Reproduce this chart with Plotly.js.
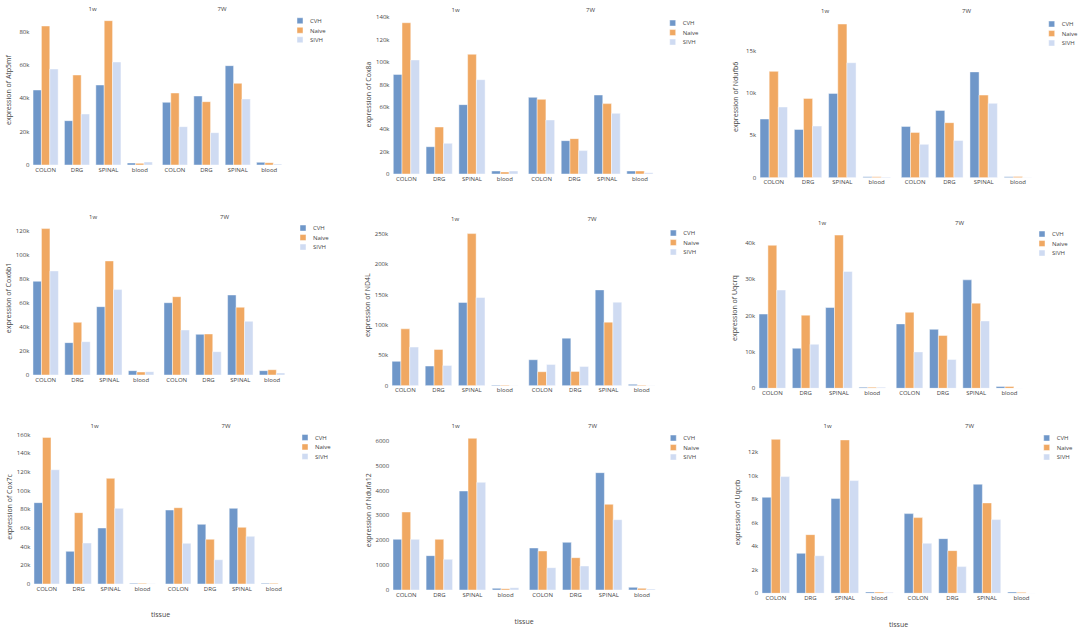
<!DOCTYPE html>
<html>
<head>
<meta charset="utf-8">
<script src="https://cdn.plot.ly/plotly-3.0.1.min.js"></script>
<style>
html,body{margin:0;padding:0;background:#fff;overflow:hidden;}
#wrap{width:1084px;height:629px;overflow:hidden;position:relative;}
#chart{width:2168px;height:1258px;transform:scale(0.5);transform-origin:0 0;}
</style>
</head>
<body>
<div id="wrap"><div id="chart"></div></div>
<script>
// ---------------- data ----------------
const tissues = ['COLON', 'DRG', 'SPINAL', 'blood'];
const timepoints = ['1w', '7W'];
const groups = ['CVH', 'Naive', 'SIVH'];
const genes = ['Atp5mf', 'Cox8a', 'Ndufb6', 'Cox6b1', 'ND4L', 'Uqcrq', 'Cox7c', 'Ndufa12', 'Uqcrb'];
const yTickStep = [20000, 20000, 5000, 20000, 50000, 10000, 20000, 1000, 2000];

// order of values: 1w COLON, DRG, SPINAL, blood, 7W COLON, DRG, SPINAL, blood
const Atp5mf_CVH   = [45000, 26600, 48000, 1200, 37600, 41400, 59600, 1600];
const Atp5mf_Naive = [83400, 54000, 86600, 1000, 43200, 38000, 49000, 1400];
const Atp5mf_SIVH  = [57600, 30600, 61800, 1800, 23000, 19400, 39600, 600];

const Cox8a_CVH    = [89000, 24400, 62000, 2700, 68500, 29800, 70600, 2700];
const Cox8a_Naive  = [135200, 42000, 107000, 1800, 66700, 31600, 62900, 2700];
const Cox8a_SIVH   = [101900, 27400, 84300, 2700, 48300, 20900, 54200, 1200];

const Ndufb6_CVH   = [6930, 5700, 9960, 100, 6060, 7950, 12500, 100];
const Ndufb6_Naive = [12560, 9370, 18150, 100, 5350, 6500, 9760, 150];
const Ndufb6_SIVH  = [8350, 6100, 13580, 80, 3940, 4400, 8780, 20];

const Cox6b1_CVH   = [77900, 26900, 56800, 3600, 60100, 33800, 66500, 3600];
const Cox6b1_Naive = [121700, 43800, 94800, 2500, 65100, 34100, 56300, 4400];
const Cox6b1_SIVH  = [86500, 27700, 71000, 2800, 37400, 19400, 44600, 1700];

const ND4L_CVH     = [40000, 32300, 136800, 1100, 42700, 78200, 157500, 2200];
const ND4L_Naive   = [93500, 59600, 250000, 1100, 23000, 23500, 104500, 1100];
const ND4L_SIVH    = [63500, 33400, 145000, 500, 35000, 31700, 137300, 500];

const Uqcrq_CVH    = [20400, 11000, 22200, 300, 17700, 16200, 29800, 500];
const Uqcrq_Naive  = [39300, 20100, 42100, 300, 20900, 14500, 23400, 500];
const Uqcrq_SIVH   = [27000, 12100, 32100, 300, 10000, 7900, 18500, 100];

const Cox7c_CVH    = [87000, 34900, 59900, 700, 79100, 63800, 80900, 700];
const Cox7c_Naive  = [156800, 76300, 113000, 700, 81600, 47800, 60600, 700];
const Cox7c_SIVH   = [122200, 43800, 80900, 350, 43500, 26000, 51000, 100];

const Ndufa12_CVH   = [2036, 1380, 3977, 67, 1688, 1915, 4714, 107];
const Ndufa12_Naive = [3134, 2036, 6094, 54, 1567, 1299, 3442, 67];
const Ndufa12_SIVH  = [2036, 1232, 4326, 94, 897, 964, 2826, 40];

const Uqcrb_CVH    = [8170, 3400, 8060, 110, 6780, 4650, 9280, 110];
const Uqcrb_Naive  = [13100, 4990, 13050, 110, 6440, 3630, 7690, 80];
const Uqcrb_SIVH   = [9930, 3200, 9590, 80, 4260, 2270, 6270, 30];

const geneValues = {
  Atp5mf:  [Atp5mf_CVH, Atp5mf_Naive, Atp5mf_SIVH],
  Cox8a:   [Cox8a_CVH, Cox8a_Naive, Cox8a_SIVH],
  Ndufb6:  [Ndufb6_CVH, Ndufb6_Naive, Ndufb6_SIVH],
  Cox6b1:  [Cox6b1_CVH, Cox6b1_Naive, Cox6b1_SIVH],
  ND4L:    [ND4L_CVH, ND4L_Naive, ND4L_SIVH],
  Uqcrq:   [Uqcrq_CVH, Uqcrq_Naive, Uqcrq_SIVH],
  Cox7c:   [Cox7c_CVH, Cox7c_Naive, Cox7c_SIVH],
  Ndufa12: [Ndufa12_CVH, Ndufa12_Naive, Ndufa12_SIVH],
  Uqcrb:   [Uqcrb_CVH, Uqcrb_Naive, Uqcrb_SIVH]
};

// ---------------- styling / geometry (display px of a 1084x629 page) ----------------
const colors = ['#6f97c9', '#f0a862', '#cfdbf2'];
const W = 1084, H = 629;
const geom = [
  {a: 29.9,  w: 31.4, zero: 165,   top: 15,    ymax: 90000,  ty: 8.3,   lx: 300,    ly: 20},
  {a: 390,   w: 32.8, zero: 174,   top: 15,    ymax: 142100, ty: 9.3,   lx: 672.7,  ly: 22.3},
  {a: 756.6, w: 34.3, zero: 177.7, top: 16,    ymax: 19100,  ty: 10,    lx: 1051.7, ly: 23.3},
  {a: 29.8,  w: 31.8, zero: 375,   top: 221,   ymax: 128000, ty: 216.7, lx: 303,    ly: 227.3},
  {a: 388.7, w: 33.2, zero: 385.7, top: 224.6, ymax: 264800, ty: 219,   lx: 673.3,  ly: 232.3},
  {a: 755.7, w: 33.3, zero: 388.3, top: 227.8, ymax: 44100,  ty: 222.3, lx: 1042,   ly: 233.3},
  {a: 30.8,  w: 31.9, zero: 584,   top: 430,   ymax: 164700, ty: 425.7, lx: 305,    ly: 436.7, tissueY: 614},
  {a: 389.7, w: 33.1, zero: 590,   top: 430.6, ymax: 6404,   ty: 425.7, lx: 673.3,  ly: 437.3, tissueY: 620.7},
  {a: 758.6, w: 34.5, zero: 593.3, top: 431.7, ymax: 13750,  ty: 425.7, lx: 1046.7, ly: 437.3, tissueY: 624}
];

const px = x => x / W;
const py = y => 1 - y / H;
const textColor = '#444';
const fontFam = '"Open Sans", "DejaVu Sans", sans-serif';

const traces = [];
const layout = {
  width: 2168, height: 1258,
  margin: {l: 0, r: 0, t: 0, b: 0},
  paper_bgcolor: '#fff', plot_bgcolor: '#fff',
  font: {family: fontFam, size: 12, color: textColor},
  barmode: 'group', bargap: 0.2, bargroupgap: 0,
  annotations: [],
  showlegend: true
};

genes.forEach((gene, gi) => {
  const g = geom[gi];
  const vals = geneValues[gene];
  const legendName = gi === 0 ? 'legend' : 'legend' + (gi + 1);
  layout[legendName] = {
    x: px(g.lx - 10), y: py(g.ly - 6.5), xanchor: 'left', yanchor: 'top',
    bgcolor: 'rgba(0,0,0,0)', font: {size: 12, color: textColor}, tracegroupgap: 0
  };
  timepoints.forEach((tp, ti) => {
    const axN = gi * 2 + ti + 1;
    const xName = axN === 1 ? 'xaxis' : 'xaxis' + axN;
    const yName = axN === 1 ? 'yaxis' : 'yaxis' + axN;
    const x0 = g.a + ti * 4.12 * g.w;
    const x1 = x0 + 4 * g.w;
    layout[xName] = {
      domain: [px(x0), px(x1)], anchor: 'y' + axN, type: 'category',
      categoryorder: 'array', categoryarray: tissues,
      showgrid: false, zeroline: false, showline: false, ticks: '',
      tickfont: {size: 12, color: textColor}, fixedrange: true
    };
    layout[yName] = {
      domain: [py(g.zero), py(g.top)], anchor: 'x' + axN, range: [0, g.ymax],
      showgrid: false, zeroline: false, showline: false, ticks: '',
      dtick: yTickStep[gi], tick0: 0, showticklabels: ti === 0,
      tickfont: {size: 12, color: textColor}, fixedrange: true
    };
    if (ti === 0) {
      layout[yName].title = {text: 'expression of ' + gene, font: {size: 14, color: textColor}};
    }
    groups.forEach((grp, si) => {
      traces.push({
        type: 'bar', name: grp, legend: legendName, legendgroup: gene + grp,
        showlegend: ti === 0,
        x: tissues, y: vals[si].slice(ti * 4, ti * 4 + 4),
        xaxis: 'x' + axN, yaxis: 'y' + axN,
        marker: {
          color: colors[si],
          line: {color: 'rgba(255,255,255,0.9)', width: 1}
        },
        hoverinfo: 'skip'
      });
    });
    layout.annotations.push({
      text: tp, xref: 'paper', yref: 'paper',
      x: px(ti === 0 ? g.a + 2 * g.w : g.a + 6.12 * g.w), y: py(g.ty),
      xanchor: 'center', yanchor: 'middle', showarrow: false,
      font: {size: 12, color: textColor}
    });
  });
  if (g.tissueY) {
    layout.annotations.push({
      text: 'tissue', xref: 'paper', yref: 'paper',
      x: px(g.a + 4.06 * g.w), y: py(g.tissueY),
      xanchor: 'center', yanchor: 'middle', showarrow: false,
      font: {size: 14, color: textColor}
    });
  }
});

Plotly.newPlot('chart', traces, layout, {staticPlot: true, displayModeBar: false});
</script>
</body>
</html>
